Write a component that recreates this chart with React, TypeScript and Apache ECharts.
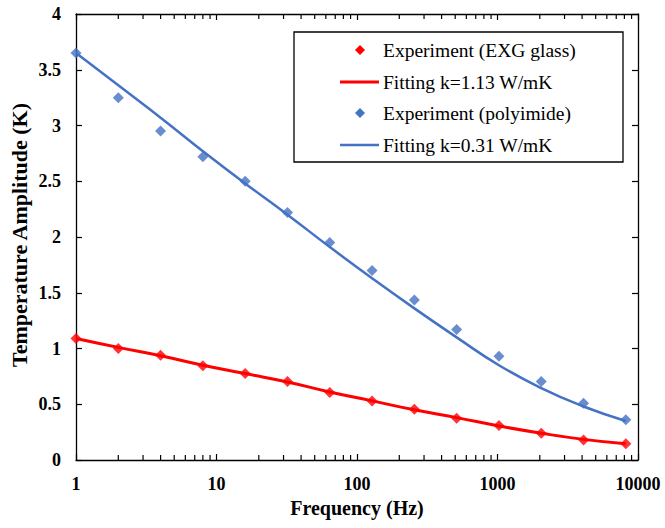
import React, { useEffect, useRef } from "react";
import * as echarts from "echarts";

const frequencies = [1, 2, 4, 8, 16, 32, 64, 128, 256, 512, 1024, 2048, 4096, 8192];
const expGlass = [1.09, 1.0, 0.94, 0.845, 0.775, 0.705, 0.605, 0.53, 0.455, 0.375, 0.31, 0.24, 0.18, 0.145];
const fitGlass = [1.09, 1.01, 0.935, 0.85, 0.775, 0.7, 0.61, 0.53, 0.45, 0.38, 0.305, 0.24, 0.185, 0.145];
const expPolyimide = [3.65, 3.25, 2.95, 2.72, 2.5, 2.22, 1.95, 1.7, 1.435, 1.17, 0.93, 0.705, 0.51, 0.36];
const fitPolyimide = [3.65, 3.36, 3.07, 2.77, 2.48, 2.2, 1.91, 1.63, 1.36, 1.1, 0.85, 0.645, 0.48, 0.35];
const minorTickValues = [
  2, 3, 4, 5, 6, 7, 8, 9,
  20, 30, 40, 50, 60, 70, 80, 90,
  200, 300, 400, 500, 600, 700, 800, 900,
  2000, 3000, 4000, 5000, 6000, 7000, 8000, 9000,
];
const legendNames = [
  "Experiment (EXG glass)",
  "Fitting k=1.13 W/mK",
  "Experiment (polyimide)",
  "Fitting k=0.31 W/mK",
];
const xAxisTitle = "Frequency (Hz)";
const yAxisTitle = "Temperature Amplitude (K)";

const RED = "#FF0000";
const BLUE = "#4472C4";
const FONT = "Liberation Serif";

function pairs(xs: number[], ys: number[]) {
  return xs.map((x, i) => [x, ys[i]]);
}

export default function App() {
  const ref = useRef<HTMLDivElement>(null);
  useEffect(() => {
    document.body.style.margin = "0";
    if (!ref.current) return;
    const chart = echarts.init(ref.current, undefined, { renderer: "svg" });
    const gridLeft = 76, gridTop = 14, gridRight = 27, gridBottom = 68;
    const lx = 294, ly = 32, lw = 329, lh = 130;
    const rowY = [50, 82, 113, 145];
    const graphics: any[] = [
      {
        type: "text",
        x: 19,
        y: 235,
        rotation: Math.PI / 2,
        style: {
          text: yAxisTitle,
          font: `bold 22px "${FONT}"`,
          fill: "#000",
          align: "center",
          verticalAlign: "middle",
        },
      },
      {
        type: "rect",
        shape: { x: lx, y: ly, width: lw, height: lh },
        style: { fill: "#fff", stroke: "#000", lineWidth: 1.3 },
        z: 100,
      },
    ];
    const colors = [RED, RED, BLUE, BLUE];
    legendNames.forEach((name, i) => {
      const cy = rowY[i];
      if (i % 2 === 0) {
        graphics.push({
          type: "polygon",
          shape: { points: [[360, cy - 5], [365, cy], [360, cy + 5], [355, cy]] },
          style: { fill: colors[i] },
          z: 101,
        });
      } else {
        graphics.push({
          type: "line",
          shape: { x1: 340, y1: cy, x2: 379, y2: cy },
          style: { stroke: colors[i], lineWidth: i === 1 ? 3 : 2.5 },
          z: 101,
        });
      }
      graphics.push({
        type: "text",
        x: 383,
        y: cy,
        style: {
          text: name,
          font: `19.5px "${FONT}"`,
          fill: "#000",
          verticalAlign: "middle",
          align: "left",
        },
        z: 101,
      });
    });

    const tickLabel = {
      fontFamily: FONT,
      fontWeight: "bold",
      fontSize: 18,
      color: "#000",
    };

    const option: any = {
      animation: false,
      backgroundColor: "#fff",
      grid: {
        left: gridLeft,
        top: gridTop,
        right: gridRight,
        bottom: gridBottom,
        containLabel: false,
        outerBoundsMode: "none",
      },
      xAxis: [
        {
          type: "log",
          logBase: 10,
          min: 1,
          max: 10000,
          position: "bottom",
          name: xAxisTitle,
          nameLocation: "middle",
          nameGap: 38,
          nameTextStyle: { fontFamily: FONT, fontWeight: "bold", fontSize: 20, color: "#000" },
          axisLine: { onZero: false, lineStyle: { color: "#000", width: 1.3 } },
          axisTick: { inside: true, length: 6, lineStyle: { color: "#000", width: 1.2 } },
          minorTick: { show: false },
          axisLabel: { ...tickLabel, margin: 15, formatter: (v: number) => String(Math.round(v)) },
          splitLine: { show: false },
        },
        {
          type: "log",
          logBase: 10,
          min: 1,
          max: 10000,
          position: "top",
          axisLine: { onZero: false, lineStyle: { color: "#000", width: 1.3 } },
          axisTick: { inside: true, length: 6, lineStyle: { color: "#000", width: 1.2 } },
          axisLabel: { show: false },
          splitLine: { show: false },
        },
      ],
      yAxis: [
        {
          type: "value",
          min: 0,
          max: 4,
          interval: 0.5,
          position: "left",
          axisLine: { show: true, lineStyle: { color: "#000", width: 1.3 } },
          axisTick: { show: true, inside: true, length: 6, lineStyle: { color: "#000", width: 1.2 } },
          axisLabel: { ...tickLabel, margin: 15 },
          splitLine: { show: false },
        },
        {
          type: "value",
          min: 0,
          max: 4,
          interval: 0.5,
          position: "right",
          axisLine: { show: true, lineStyle: { color: "#000", width: 1.3 } },
          axisTick: { show: true, inside: true, length: 6, lineStyle: { color: "#000", width: 1.2 } },
          axisLabel: { show: false },
          splitLine: { show: false },
        },
      ],
      graphic: graphics,
      series: [
        {
          type: "custom",
          name: "minorTicks",
          xAxisIndex: 0,
          yAxisIndex: 0,
          silent: true,
          clip: false,
          data: minorTickValues.map((v) => [v, 0]),
          renderItem: (params: any, api: any) => {
            const bottom = api.coord([api.value(0), 0]);
            const top = api.coord([api.value(0), 4]);
            const style = { stroke: "#000", lineWidth: 1.2 };
            return {
              type: "group",
              children: [
                { type: "line", shape: { x1: bottom[0], y1: bottom[1], x2: bottom[0], y2: bottom[1] - 5 }, style },
                { type: "line", shape: { x1: top[0], y1: top[1], x2: top[0], y2: top[1] + 5 }, style },
              ],
            };
          },
          z: 1,
        },
        {
          type: "scatter",
          name: legendNames[0],
          symbol: "diamond",
          symbolSize: 11,
          itemStyle: { color: RED },
          data: pairs(frequencies, expGlass),
          z: 2,
        },
        {
          type: "line",
          name: legendNames[1],
          smooth: true,
          showSymbol: false,
          symbol: "none",
          lineStyle: { color: RED, width: 3 },
          data: pairs(frequencies, fitGlass),
          z: 3,
        },
        {
          type: "scatter",
          name: legendNames[2],
          symbol: "diamond",
          symbolSize: 11,
          itemStyle: { color: BLUE },
          data: pairs(frequencies, expPolyimide),
          z: 4,
        },
        {
          type: "line",
          name: legendNames[3],
          smooth: true,
          showSymbol: false,
          symbol: "none",
          lineStyle: { color: BLUE, width: 2.5 },
          data: pairs(frequencies, fitPolyimide),
          z: 5,
        },
      ],
    };
    chart.setOption(option);
    return () => chart.dispose();
  }, []);
  return <div ref={ref} style={{ width: 665, height: 528 }} />;
}
